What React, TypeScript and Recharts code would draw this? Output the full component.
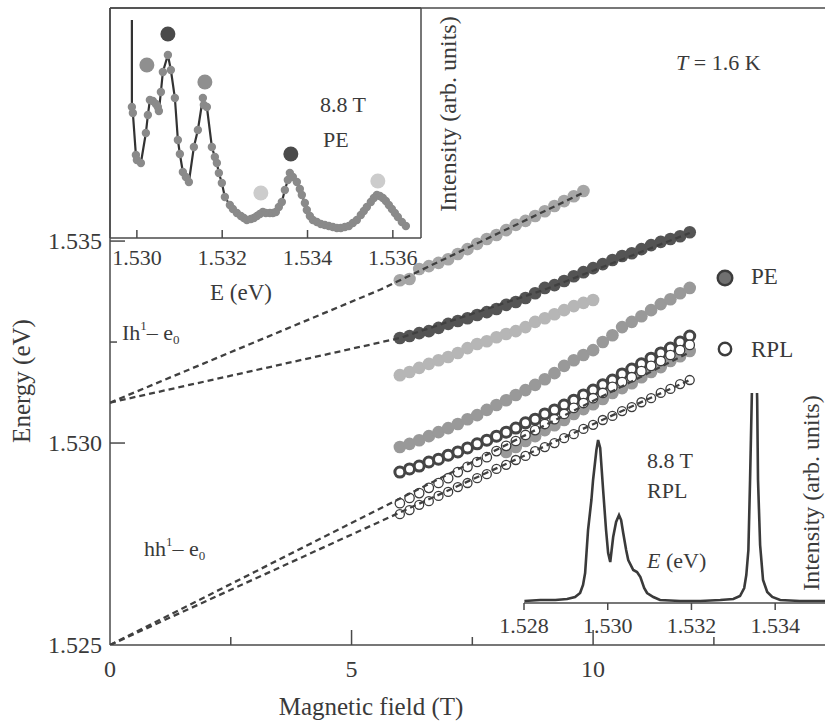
import React from 'react';
import { ScatterChart, Scatter, XAxis, YAxis, ReferenceLine, LineChart, Line } from 'recharts';

const FONT = '"Liberation Serif", "Times New Roman", Times, serif';
const INK = '#3a3a3a';
const AXIS = '#4a4a4a';
const DASH = '#404040';

// ---------- main panel: ticks ----------
const MAIN_X_TICKS = [0, 2.5, 5, 7.5, 10, 12.5];
const MAIN_X_MAJOR = [5, 10];
const MAIN_X_LABELED = [0, 5, 10];
const MAIN_Y_TICKS = [1.525, 1.53, 1.5325, 1.535];
const MAIN_Y_MAJOR = [1.53, 1.535];
const MAIN_Y_LABELED = [1.525, 1.53, 1.535];
const MAIN_X_DOMAIN = [0, 14.8];
const MAIN_Y_DOMAIN = [1.525, 1.54077];

// ---------- main panel: magnetic fields (T) ----------
const FIELD_6_12 = [6.0, 6.2, 6.4, 6.6, 6.8, 7.0, 7.2, 7.4, 7.6, 7.8, 8.0, 8.2, 8.4, 8.6, 8.8, 9.0, 9.2, 9.4, 9.6, 9.8, 10.0, 10.2, 10.4, 10.6, 10.8, 11.0, 11.2, 11.4, 11.6, 11.8, 12.0];
const FIELD_6_98 = [6.0, 6.2, 6.4, 6.6, 6.8, 7.0, 7.2, 7.4, 7.6, 7.8, 8.0, 8.2, 8.4, 8.6, 8.8, 9.0, 9.2, 9.4, 9.6, 9.8];
const FIELD_6_10 = [6.0, 6.2, 6.4, 6.6, 6.8, 7.0, 7.2, 7.4, 7.6, 7.8, 8.0, 8.2, 8.4, 8.6, 8.8, 9.0, 9.2, 9.4, 9.6, 9.8, 10.0];
const FIELD_82_12 = [8.2, 8.4, 8.6, 8.8, 9.0, 9.2, 9.4, 9.6, 9.8, 10.0, 10.2, 10.4, 10.6, 10.8, 11.0, 11.2, 11.4, 11.6, 11.8, 12.0];

// ---------- main panel: energies (eV) ----------
const PE_TOP = [1.53403, 1.53406, 1.53431, 1.53438, 1.53446, 1.53455, 1.53468, 1.5348, 1.53493, 1.53505, 1.53515, 1.53527, 1.5354, 1.5355, 1.53562, 1.53574, 1.53587, 1.53599, 1.53611, 1.53624];
const PE_DARK = [1.5326, 1.53265, 1.53272, 1.53277, 1.53285, 1.53295, 1.53302, 1.53309, 1.53317, 1.53324, 1.53332, 1.53342, 1.53349, 1.53359, 1.53371, 1.53384, 1.53391, 1.53401, 1.53413, 1.53423, 1.53433, 1.53443, 1.53453, 1.53463, 1.5347, 1.5348, 1.5349, 1.53498, 1.53505, 1.53512, 1.53522];
const PE_LIGHT = [1.53168, 1.53176, 1.53186, 1.53196, 1.53205, 1.53213, 1.53223, 1.53235, 1.53245, 1.53252, 1.53262, 1.5327, 1.53277, 1.53287, 1.533, 1.53309, 1.53319, 1.53329, 1.53339, 1.53347, 1.53354];
const PE_MID = [1.5299, 1.52998, 1.53007, 1.53017, 1.53027, 1.53037, 1.53047, 1.53059, 1.53069, 1.53082, 1.53094, 1.53106, 1.53119, 1.53131, 1.53144, 1.53158, 1.53173, 1.53191, 1.53205, 1.53218, 1.5323, 1.5325, 1.53267, 1.53287, 1.533, 1.53314, 1.53329, 1.53344, 1.53356, 1.53371, 1.53384];
const PE_LOW = [1.52978, 1.5299, 1.53005, 1.53017, 1.53032, 1.53044, 1.53057, 1.53072, 1.53084, 1.53096, 1.53109, 1.53124, 1.53136, 1.53148, 1.53163, 1.53176, 1.53188, 1.53203, 1.53215, 1.53228];
const RPL_DARK = [1.52928, 1.52936, 1.52943, 1.52953, 1.5296, 1.5297, 1.52978, 1.52988, 1.52998, 1.53007, 1.53017, 1.53027, 1.53037, 1.5305, 1.53059, 1.53072, 1.53082, 1.53094, 1.53106, 1.53119, 1.53131, 1.53144, 1.53156, 1.53171, 1.53183, 1.53196, 1.5321, 1.53223, 1.53235, 1.5325, 1.53265];
const RPL_UPPER = [1.52851, 1.52864, 1.52876, 1.52889, 1.52901, 1.52913, 1.52928, 1.52941, 1.52953, 1.52965, 1.5298, 1.52993, 1.53005, 1.5302, 1.53032, 1.53047, 1.53059, 1.53072, 1.53087, 1.53099, 1.53111, 1.53124, 1.53139, 1.53151, 1.53163, 1.53178, 1.53191, 1.53203, 1.53218, 1.5323, 1.53243];
const RPL_LOWER = [1.52824, 1.52834, 1.52847, 1.52856, 1.52869, 1.52879, 1.52891, 1.52901, 1.52913, 1.52923, 1.52936, 1.52946, 1.52958, 1.52968, 1.5298, 1.5299, 1.53, 1.53012, 1.53022, 1.53035, 1.53045, 1.53057, 1.53067, 1.53079, 1.53089, 1.53101, 1.53111, 1.53124, 1.53134, 1.53146, 1.53156];

// dashed guide lines (lh and hh extrapolations)
const LH_FIT_A_B = [0, 5.6, 9.8];
const LH_FIT_A_E = [1.531, 1.5338, 1.5362];
const LH_FIT_B_B = [0, 6.0, 9.0, 12.0];
const LH_FIT_B_E = [1.531, 1.5326, 1.5338, 1.5352];
const HH_FIT_A_B = [0, 12];
const HH_FIT_A_E = [1.525, 1.53225];
const HH_FIT_B_B = [0, 12];
const HH_FIT_B_E = [1.525, 1.53156];

// ---------- inset 1: PE spectrum at 8.8 T ----------
const PE_INSET_X_TICKS = [1.53, 1.532, 1.534, 1.536];
const PE_INSET_X_DOMAIN = [1.52937, 1.53666];
const PE_INSET_Y_DOMAIN = [0, 230];
const PE_EDGE_E = [1.529883, 1.529883];
const PE_EDGE_I = [218, 131];
const PE_SPEC_E = [1.529883, 1.529906, 1.529977, 1.53, 1.530094, 1.530211, 1.530258, 1.530305, 1.530375, 1.530445, 1.530492, 1.530516, 1.530563, 1.530609, 1.530727, 1.530797, 1.530891, 1.530961, 1.531008, 1.531078, 1.531148, 1.531219, 1.531336, 1.53143, 1.531547, 1.53157, 1.531641, 1.531758, 1.531828, 1.531875, 1.531922, 1.531992, 1.532063, 1.53218, 1.53225, 1.532344, 1.532438, 1.532508, 1.532578, 1.532672, 1.532742, 1.532813, 1.532883, 1.532953, 1.533023, 1.533117, 1.533188, 1.533258, 1.533328, 1.533398, 1.533469, 1.533539, 1.533586, 1.533656, 1.53375, 1.53382, 1.533867, 1.533938, 1.533984, 1.534055, 1.534125, 1.534219, 1.534313, 1.534406, 1.5345, 1.534594, 1.534688, 1.534781, 1.534875, 1.534969, 1.535063, 1.535156, 1.53525, 1.53532, 1.535391, 1.535484, 1.535555, 1.535625, 1.535695, 1.535766, 1.535836, 1.535906, 1.535977, 1.536047, 1.536117, 1.536211, 1.536305];
const PE_SPEC_I = [131, 125, 83, 78, 75, 105, 123, 138, 137, 134, 131, 127, 146, 166, 183, 168, 140, 98, 84, 66, 61, 56, 91, 108, 140, 133, 131, 91, 81, 75, 65, 55, 41, 33, 29, 25, 22, 20, 18, 19, 20, 22, 24, 26, 25, 25, 25, 26, 31, 36, 48, 58, 65, 61, 56, 49, 43, 35, 28, 22, 18, 16, 14, 13, 12, 11, 10, 10, 11, 12, 15, 18, 23, 27, 31, 36, 40, 43, 42, 40, 37, 33, 29, 25, 21, 16, 12];
const PEAK_DARK_E = [1.530727, 1.533609];
const PEAK_DARK_I = [204, 84];
const PEAK_MID_E = [1.530234, 1.531594];
const PEAK_MID_I = [173, 156];
const PEAK_LIGHT_E = [1.532906, 1.535648];
const PEAK_LIGHT_I = [45, 57];

// ---------- inset 2: RPL spectrum at 8.8 T ----------
const RPL_INSET_X_TICKS = [1.528, 1.53, 1.532, 1.534];
const RPL_INSET_X_DOMAIN = [1.528, 1.53519];
const RPL_INSET_Y_DOMAIN = [0, 210];
const RPL_SPEC_E = [1.52801, 1.52839, 1.52875, 1.52903, 1.52922, 1.52934, 1.52941, 1.52946, 1.52953, 1.52961, 1.52965, 1.52973, 1.52977, 1.52982, 1.52989, 1.52996, 1.53001, 1.53006, 1.53013, 1.5302, 1.53027, 1.53032, 1.53037, 1.53044, 1.53049, 1.53061, 1.5307, 1.53078, 1.53087, 1.53094, 1.53109, 1.53125, 1.53173, 1.53221, 1.53269, 1.533, 1.53316, 1.53326, 1.53331, 1.53336, 1.5334, 1.53344, 1.5335, 1.53357, 1.53359, 1.53364, 1.53371, 1.53381, 1.53393, 1.53412, 1.53459, 1.53519];
const RPL_SPEC_I = [2, 3, 3, 4, 6, 10, 18, 30, 73, 103, 123, 153, 163, 155, 113, 73, 50, 41, 66, 81, 88, 83, 70, 53, 43, 33, 31, 26, 15, 10, 6, 3, 2, 2, 3, 4, 7, 15, 28, 53, 123, 203, 330, 203, 123, 58, 23, 11, 6, 3, 2, 2];

const pts = (xs: number[], ys: number[]) => xs.map((x, i) => ({ x, y: ys[i] }));

const txt = { fontFamily: FONT, fill: INK } as const;

const MainXTick = (props: any) => {
  const { x, y, payload } = props;
  const v = payload.value as number;
  const len = v === 0 ? 0 : MAIN_X_MAJOR.includes(v) ? 15 : 8;
  return (
    <g>
      {len > 0 && <line x1={x} x2={x} y1={y} y2={y - len} stroke={AXIS} strokeWidth={1.5} />}
      {MAIN_X_LABELED.includes(v) && (
        <text x={x} y={y + 32} textAnchor="middle" fontSize={24} {...txt}>{v}</text>
      )}
    </g>
  );
};

const MainYTick = (props: any) => {
  const { x, y, payload } = props;
  const v = payload.value as number;
  const len = MAIN_Y_MAJOR.includes(v) ? 15 : MAIN_Y_LABELED.includes(v) ? 0 : 7;
  return (
    <g>
      {len > 0 && <line x1={x} x2={x + len} y1={y} y2={y} stroke={AXIS} strokeWidth={1.5} />}
      {MAIN_Y_LABELED.includes(v) && (
        <text x={x - 8} y={y + 8} textAnchor="end" fontSize={24} {...txt}>{v.toFixed(3)}</text>
      )}
    </g>
  );
};

const PeInsetTick = (props: any) => {
  const { x, y, payload } = props;
  const v = payload.value as number;
  return (
    <g>
      <line x1={x} x2={x} y1={y} y2={y - 8} stroke={AXIS} strokeWidth={1.5} />
      <text x={x} y={y + 27} textAnchor="middle" fontSize={22} {...txt}>{v.toFixed(3)}</text>
    </g>
  );
};

const RplInsetTick = (props: any) => {
  const { x, y, payload } = props;
  const v = payload.value as number;
  return (
    <g>
      <line x1={x} x2={x} y1={y} y2={y + 7} stroke={AXIS} strokeWidth={1.5} />
      <text x={x} y={y + 30} textAnchor="middle" fontSize={22} {...txt}>{v.toFixed(3)}</text>
    </g>
  );
};

const filled = (fill: string, r: number) => (p: any) => <circle cx={p.cx} cy={p.cy} r={r} fill={fill} />;
const ring = (stroke: string, r: number, sw: number) => (p: any) => (
  <circle cx={p.cx} cy={p.cy} r={r} fill="#ffffff" stroke={stroke} strokeWidth={sw} />
);
const noShape = () => <g />;
const dashLine = { stroke: DASH, strokeWidth: 2.3, strokeDasharray: '6 4' };

export default function App() {
  return (
    <div style={{ position: 'absolute', left: 0, top: 0, width: 825, height: 723, background: '#fff', overflow: 'hidden' }}>
      {/* main panel */}
      <div style={{ position: 'absolute', left: 0, top: 0 }}>
        <ScatterChart width={825} height={723} margin={{ top: 8, right: 0, bottom: 0, left: 0 }}>
          <XAxis
            type="number" dataKey="x" domain={MAIN_X_DOMAIN} ticks={MAIN_X_TICKS} interval={0}
            allowDataOverflow height={78} tickSize={0} tickMargin={0} tickLine={false}
            axisLine={{ stroke: AXIS, strokeWidth: 1.5 }} tick={MainXTick}
          />
          <YAxis
            type="number" dataKey="y" domain={MAIN_Y_DOMAIN} ticks={MAIN_Y_TICKS} interval={0}
            allowDataOverflow width={110} tickSize={0} tickMargin={0} tickLine={false}
            axisLine={{ stroke: AXIS, strokeWidth: 1.5 }} tick={MainYTick}
          />
          <ReferenceLine y={MAIN_Y_DOMAIN[1]} stroke={AXIS} strokeWidth={1.5} />
          <Scatter data={pts(FIELD_6_98, PE_TOP)} shape={filled('#a6a6a6', 6.3)} isAnimationActive={false} />
          <Scatter data={pts(LH_FIT_A_B, LH_FIT_A_E)} line={dashLine} shape={noShape} isAnimationActive={false} />
          <Scatter data={pts(FIELD_6_12, PE_DARK)} shape={filled('#545454', 6.3)} isAnimationActive={false} />
          <Scatter data={pts(LH_FIT_B_B, LH_FIT_B_E)} line={dashLine} shape={noShape} isAnimationActive={false} />
          <Scatter data={pts(FIELD_6_10, PE_LIGHT)} shape={filled('#b6b6b6', 6.3)} isAnimationActive={false} />
          <Scatter data={pts(FIELD_6_12, PE_MID)} shape={filled('#999999', 6.3)} isAnimationActive={false} />
          <Scatter data={pts(FIELD_82_12, PE_LOW)} shape={filled('#999999', 6.3)} isAnimationActive={false} />
          <Scatter data={pts(FIELD_6_12, RPL_DARK)} shape={ring('#454545', 5, 3)} isAnimationActive={false} />
          <Scatter data={pts(FIELD_6_12, RPL_UPPER)} shape={ring('#3c3c3c', 4.7, 1.3)} isAnimationActive={false} />
          <Scatter data={pts(HH_FIT_A_B, HH_FIT_A_E)} line={dashLine} shape={noShape} isAnimationActive={false} />
          <Scatter data={pts(FIELD_6_12, RPL_LOWER)} shape={ring('#3c3c3c', 4.5, 1.3)} isAnimationActive={false} />
          <Scatter data={pts(HH_FIT_B_B, HH_FIT_B_E)} line={dashLine} shape={noShape} isAnimationActive={false} />
        </ScatterChart>
      </div>

      {/* inset 1: PE spectrum */}
      <div style={{ position: 'absolute', left: 0, top: 0 }}>
        <ScatterChart width={470} height={310} margin={{ top: 8, right: 49, bottom: 0, left: 110 }}>
          <XAxis
            type="number" dataKey="x" domain={PE_INSET_X_DOMAIN} ticks={PE_INSET_X_TICKS} interval={0}
            allowDataOverflow height={72} tickSize={0} tickMargin={0} tickLine={false}
            axisLine={{ stroke: AXIS, strokeWidth: 1.5 }} tick={PeInsetTick}
          />
          <YAxis type="number" dataKey="y" domain={PE_INSET_Y_DOMAIN} allowDataOverflow hide />
          <ReferenceLine y={PE_INSET_Y_DOMAIN[1]} stroke={AXIS} strokeWidth={1.5} />
          <ReferenceLine x={PE_INSET_X_DOMAIN[0]} stroke={AXIS} strokeWidth={1.5} />
          <ReferenceLine x={PE_INSET_X_DOMAIN[1]} stroke={AXIS} strokeWidth={1.5} />
          <Scatter data={pts(PE_EDGE_E, PE_EDGE_I)} line={{ stroke: '#333333', strokeWidth: 2.2 }} shape={noShape} isAnimationActive={false} />
          <Scatter data={pts(PE_SPEC_E, PE_SPEC_I)} line={{ stroke: '#333333', strokeWidth: 2.2 }} shape={filled('#8a8a8a', 4.2)} isAnimationActive={false} />
          <Scatter data={pts(PEAK_DARK_E, PEAK_DARK_I)} shape={filled('#4a4a4a', 7.5)} isAnimationActive={false} />
          <Scatter data={pts(PEAK_MID_E, PEAK_MID_I)} shape={filled('#8f8f8f', 7.5)} isAnimationActive={false} />
          <Scatter data={pts(PEAK_LIGHT_E, PEAK_LIGHT_I)} shape={filled('#cccccc', 7.5)} isAnimationActive={false} />
        </ScatterChart>
      </div>

      {/* inset 2: RPL spectrum */}
      <div style={{ position: 'absolute', left: 480, top: 380 }}>
        <LineChart width={345} height={270} data={pts(RPL_SPEC_E, RPL_SPEC_I)} margin={{ top: 13, right: 0, bottom: 0, left: 44 }}>
          <XAxis
            type="number" dataKey="x" domain={RPL_INSET_X_DOMAIN} ticks={RPL_INSET_X_TICKS} interval={0}
            allowDataOverflow height={47} tickSize={0} tickMargin={0} tickLine={false}
            axisLine={{ stroke: AXIS, strokeWidth: 1.5 }} tick={RplInsetTick}
          />
          <YAxis type="number" domain={RPL_INSET_Y_DOMAIN} allowDataOverflow hide />
          <Line type="linear" dataKey="y" stroke="#3a3a3a" strokeWidth={2.6} dot={false} isAnimationActive={false} />
        </LineChart>
      </div>

      {/* annotations */}
      <svg width={825} height={723} style={{ position: 'absolute', left: 0, top: 0, pointerEvents: 'none' }}>
        <text x={676} y={70} fontSize={22} {...txt}>
          <tspan fontStyle="italic">T</tspan> = 1.6 K
        </text>
        <circle cx={725} cy={278} r={7.3} fill="#707070" stroke="#3c3c3c" strokeWidth={2.4} />
        <text x={751} y={284} fontSize={23} {...txt}>PE</text>
        <circle cx={725} cy={349} r={6.2} fill="#ffffff" stroke="#3c3c3c" strokeWidth={2.4} />
        <text x={751} y={357} fontSize={23} {...txt}>RPL</text>

        <text x={122} y={340} fontSize={22} {...txt}>
          Ih<tspan fontSize={13} dy={-10}>1</tspan><tspan dy={10}>– e</tspan><tspan fontSize={13} dy={4}>0</tspan>
        </text>
        <text x={144} y={556} fontSize={22} {...txt}>
          hh<tspan fontSize={13} dy={-10}>1</tspan><tspan dy={10}>– e</tspan><tspan fontSize={13} dy={4}>0</tspan>
        </text>

        <text transform="translate(30,381) rotate(-90)" textAnchor="middle" fontSize={25} {...txt}>Energy (eV)</text>
        <text x={371} y={715} textAnchor="middle" fontSize={25} {...txt}>Magnetic field (T)</text>

        <text x={320} y={112} fontSize={22} {...txt}>8.8 T</text>
        <text x={323} y={147} fontSize={22} {...txt}>PE</text>
        <text x={241} y={300} textAnchor="middle" fontSize={23} {...txt}>E (eV)</text>
        <text transform="translate(456,114) rotate(-90)" textAnchor="middle" fontSize={24} {...txt}>Intensity (arb. units)</text>

        <text x={647} y={468} fontSize={22} {...txt}>8.8 T</text>
        <text x={647} y={498} fontSize={22} {...txt}>RPL</text>
        <text x={647} y={568} fontSize={22} {...txt}>
          <tspan fontStyle="italic">E</tspan> (eV)
        </text>
        <text transform="translate(819,493) rotate(-90)" textAnchor="middle" fontSize={24} {...txt}>Intensity (arb. units)</text>
      </svg>
    </div>
  );
}
